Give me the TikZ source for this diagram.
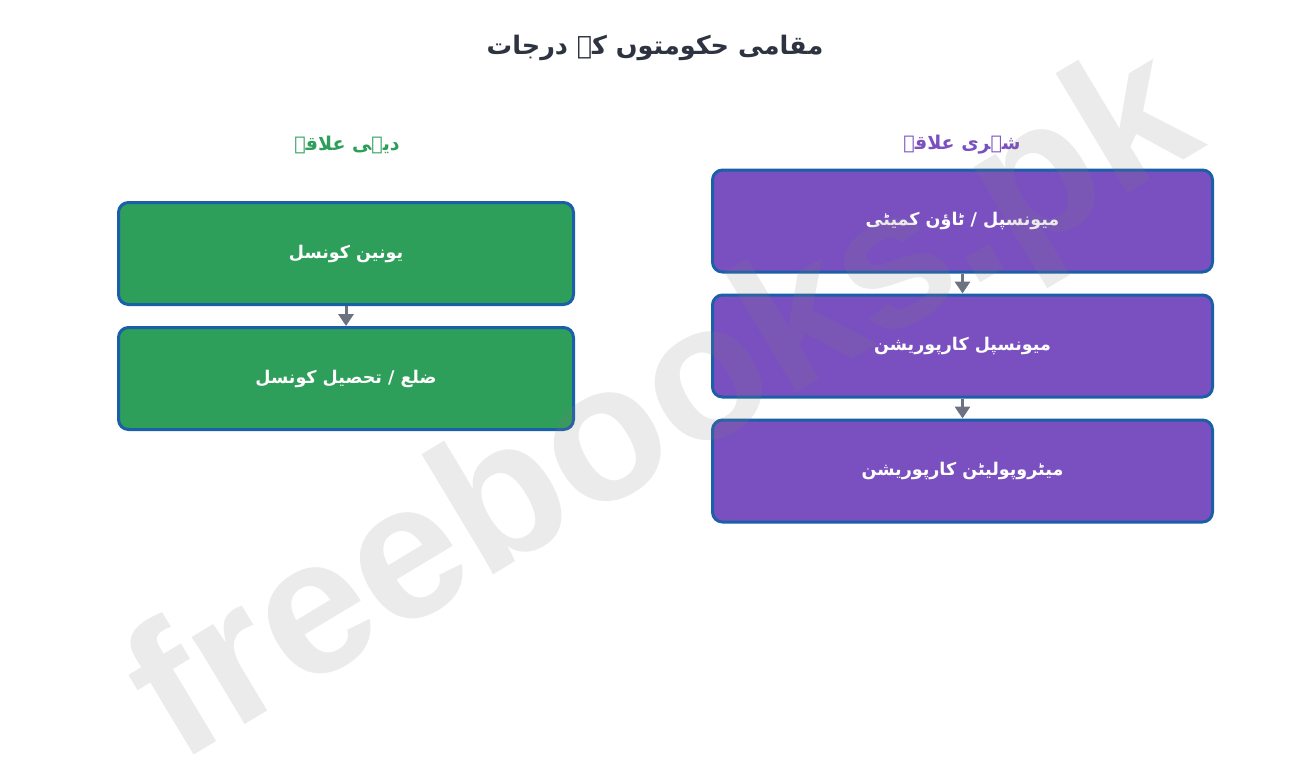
\documentclass[tikz,border=0pt]{standalone}
\usepackage{fontspec}
\setmainfont{Liberation Sans}
\newfontfamily\urdu[Script=Arabic]{DejaVu Sans}
\TeXXeTstate=1
\usetikzlibrary{arrows.meta, positioning}

\definecolor{ruralgreen}{HTML}{2E9E5B}
\definecolor{urbanpurple}{HTML}{7A50C0}
\definecolor{boxborder}{HTML}{1A5FA8}
\definecolor{arrowgray}{HTML}{6B7280}
\definecolor{titledark}{HTML}{2D3340}

\begin{document}
\begin{tikzpicture}[x=1pt, y=-1pt,
    tier/.style={draw=boxborder, line width=3pt, rounded corners=10pt,
        minimum height=102pt, text=white, font=\urdu\bfseries\fontsize{17.5}{21}\selectfont},
    rural/.style={tier, fill=ruralgreen, minimum width=455pt},
    urban/.style={tier, fill=urbanpurple, minimum width=500pt},
    heading/.style={font=\urdu\bfseries\fontsize{19}{22}\selectfont},
    flow/.style={draw=arrowgray, line width=3pt, -{Triangle[width=15pt,length=12pt]}},
    node distance=20pt]
\useasboundingbox (0,0) rectangle (1308,769);

% Title
\node[font=\urdu\bfseries\fontsize{25.5}{30}\selectfont, text=titledark] (title) at (655,48) {\beginR مقامی حکومتوں کے درجات\endR};

% Rural side
\node[heading, text=ruralgreen] (ruralhead) at (347,145) {\beginR دیہی علاقے\endR};
\node[rural] (union) at (346,253.5) {\beginR یونین کونسل\endR};
\node[rural, below=of union] (district) {\beginR ضلع / تحصیل کونسل\endR};
\draw[flow] (union) -- (district);

% Urban side
\node[heading, text=urbanpurple] (urbanhead) at (962,145) {\beginR شہری علاقے\endR};
\node[urban] (town) at (962.5,221) {\beginR میونسپل / ٹاؤن کمیٹی\endR};
\node[urban, below=of town] (municipal) {\beginR میونسپل کارپوریشن\endR};
\node[urban, below=of municipal] (metro) {\beginR میٹروپولیٹن کارپوریشن\endR};
\draw[flow] (town) -- (municipal);
\draw[flow] (municipal) -- (metro);

% Watermark
\node[rotate=31, text=gray, text opacity=0.16, font=\bfseries\fontsize{193}{193}\selectfont] (mark) at (668,412) {freebooks.pk};
\end{tikzpicture}
\end{document}
